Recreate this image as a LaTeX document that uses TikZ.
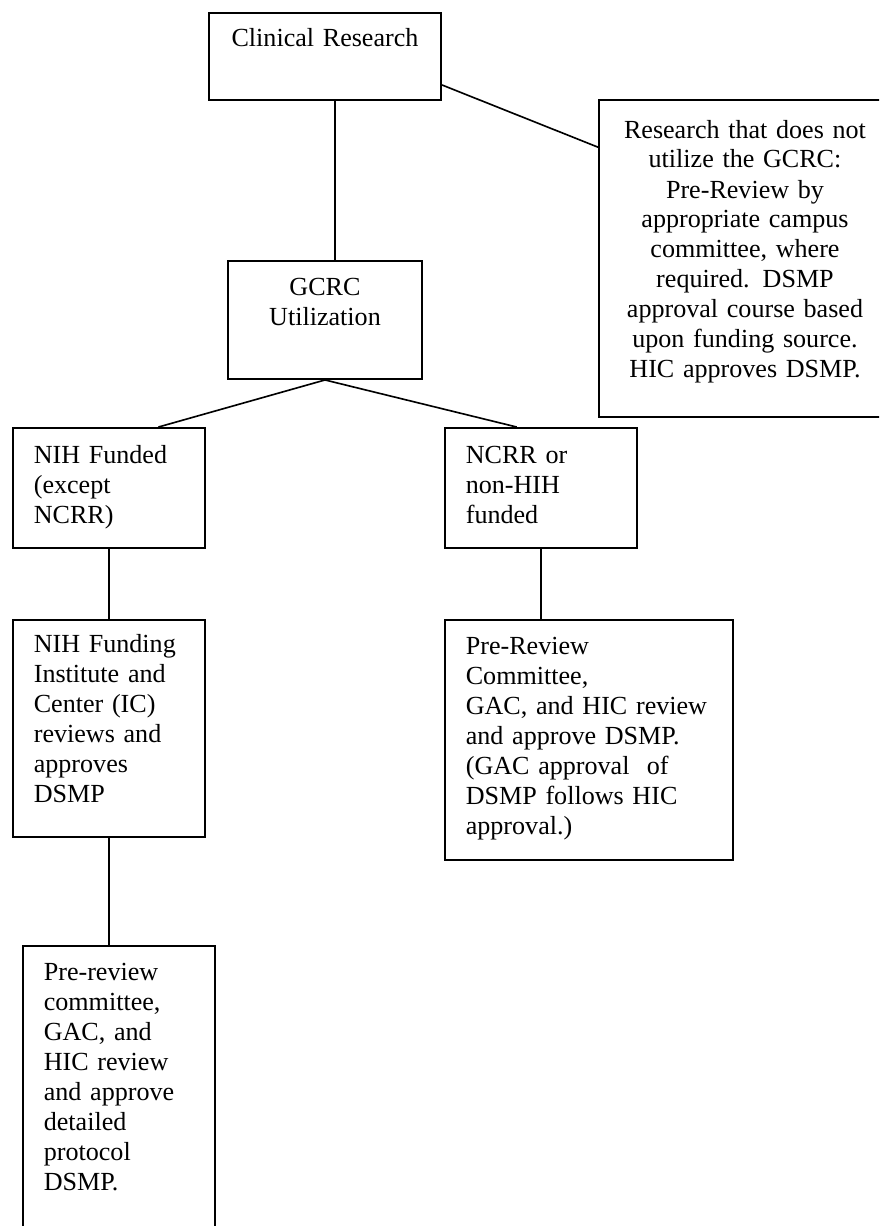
\documentclass[tikz,border=0pt]{standalone}
\usepackage{fontspec}
\setmainfont{Liberation Serif}
\usetikzlibrary{fit,calc}

\tikzset{every picture/.style={line width=0.75pt}}
\tikzset{
  box/.style={draw, line width=0.9pt, inner sep=0pt},
  lefttext/.style={align=left, inner sep=0pt, anchor=base west, font=\fontsize{12}{13.8}\selectfont},
  midtext/.style={align=center, inner sep=0pt, anchor=base, font=\fontsize{12}{13.8}\selectfont},
  link/.style={line width=0.75pt}
}

\begin{document}
\begin{tikzpicture}[x=0.46pt,y=0.46pt,yscale=-1,xscale=1]
	\useasboundingbox (0,0) rectangle (879,1226);
	\clip (0,0) rectangle (879,1226);

	%Shape: Rectangle [Clinical Research]
	\node [box, fit={(209,13) (441,100)}] (clinical) {};
	%Shape: Rectangle [not GCRC]
	\node [box, fit={(599,100) (891,417)}] (nogcrc) {};
	%Shape: Rectangle [GCRC]
	\node [box, fit={(228,261) (422,379)}] (gcrc) {};
	%Shape: Rectangle [NIH funded]
	\node [box, fit={(13,428) (205,548)}] (nihfund) {};
	%Shape: Rectangle [NCRR]
	\node [box, fit={(445,428) (637,548)}] (ncrr) {};
	%Shape: Rectangle [IC review]
	\node [box, fit={(13,620) (205,837)}] (icreview) {};
	%Shape: Rectangle [pre-review right]
	\node [box, fit={(445,620) (733,860)}] (prereviewR) {};
	%Shape: Rectangle [pre-review left]
	\node [box, fit={(23,946) (215,1240)}] (prereviewL) {};

	%Straight Lines
	\coordinate (clinicalDown) at ($(clinical.south west)!0.543!(clinical.south east)$);
	\draw [link] (clinicalDown) -- (clinicalDown |- gcrc.north);
	%Straight Lines
	\draw [link] ($(clinical.north east)!0.82!(clinical.south east)$) -- ($(nogcrc.north west)!0.151!(nogcrc.south west)$);
	%Straight Lines
	\draw [link] (gcrc.south) -- ($(nihfund.north west)!0.755!(nihfund.north east)$);
	%Straight Lines
	\draw [link] (gcrc.south) -- ($(ncrr.north west)!0.375!(ncrr.north east)$);
	%Straight Lines
	\draw [link] (nihfund.south) -- (icreview.north);
	%Straight Lines
	\draw [link] (ncrr.south) -- (ncrr.south |- prereviewR.north);
	%Straight Lines
	\draw [link] (icreview.south) -- (icreview.south |- prereviewL.north);

	% Text Node
	\node [midtext, text width=100pt] (clinicalT) at (325,47) {Clinical Research};
	% Text Node
	\node [midtext, text width=125pt] (nogcrcT) at (745,138) {Research that does not\\utilize the GCRC:\\Pre-Review by\\appropriate campus\\committee, where\\required. DSMP\\approval course based\\upon funding source.\\HIC approves DSMP.};
	% Text Node
	\node [midtext, text width=80pt] (gcrcT) at (325,295) {GCRC\\Utilization};
	% Text Node
	\node [lefttext, text width=82pt] (nihfundT) at (33,463) {NIH Funded\\(except\\NCRR)};
	% Text Node
	\node [lefttext, text width=82pt] (ncrrT) at (465,463) {NCRR or\\non-HIH\\funded};
	% Text Node
	\node [lefttext, text width=82pt] (icreviewT) at (33,652) {NIH Funding\\Institute and\\Center (IC)\\reviews and\\approves\\DSMP};
	% Text Node
	\node [lefttext, text width=122pt] (prereviewRT) at (465,654) {Pre-Review\\Committee,\\GAC, and HIC review\\and approve DSMP.\\(GAC approval~ of\\DSMP follows HIC\\approval.)};
	% Text Node
	\node [lefttext, text width=82pt] (prereviewLT) at (43,980) {Pre-review\\committee,\\GAC, and\\HIC review\\and approve\\detailed\\protocol\\DSMP.};

\end{tikzpicture}
\end{document}
